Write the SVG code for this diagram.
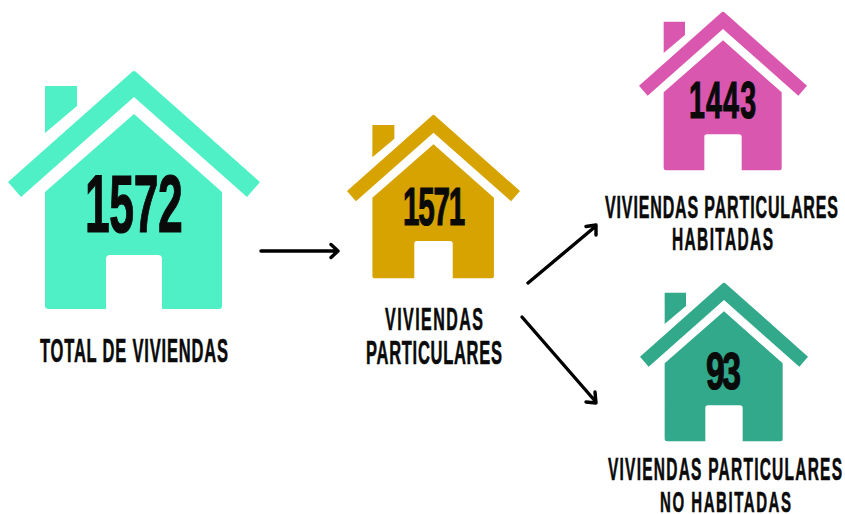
<svg xmlns="http://www.w3.org/2000/svg" width="845" height="514" viewBox="0 0 845 514">
<style>
text{font-family:"Liberation Sans Narrow","Liberation Sans",sans-serif;font-weight:700;fill:#0a0a0a;stroke:#0a0a0a;stroke-width:.6;}
.n{stroke-width:1.2;}
.c{fill:none;stroke:#000;stroke-width:3.4;stroke-linecap:round;stroke-linejoin:round;}
</style>
<defs>
<symbol id="house" viewBox="0 0 252 238" overflow="visible">
<path d="M126 0L127.500 0.500L252 111L239 126L126 26L13 126L0 111L124.500 0.500Z"/>
<path d="M37 15H69V35L37 62Z"/>
<path d="M126 43L214 121V235Q214 238 211 238H154V188Q154 184 150 184H102Q98 184 98 188V238H41Q37 238 37 235V121Z"/>
</symbol>
</defs>
<rect width="845" height="514" fill="#fff"/>
<g id="connectors">
<path class="c" d="M261 251H338M331 244.500L338 251L331 257.500"/>
<path class="c" d="M528 283L596 226M586 226.500L596 225L596 235"/>
<path class="c" d="M522 317L596 402M595 392L596 403L586 402"/>
</g>
<g id="node-total">
<use href="#house" x="8" y="71" width="252" height="238" fill="#50f0c6"/>
<text class="n" transform="translate(85 232) scale(.55 1)" font-size="81" textLength="178" lengthAdjust="spacing">1572</text>
<text transform="translate(40 362) scale(.5 1)" font-size="33" textLength="376" lengthAdjust="spacing">TOTAL DE VIVIENDAS</text>
</g>
<g id="node-particulares">
<use href="#house" x="347" y="114" width="173" height="165" fill="#d7a300"/>
<text class="n" transform="translate(403 225) scale(.55 1)" font-size="54" textLength="113" lengthAdjust="spacing">1571</text>
<text transform="translate(385 330) scale(.5 1)" font-size="32" textLength="196" lengthAdjust="spacing">VIVIENDAS</text>
<text transform="translate(366 364) scale(.5 1)" font-size="33" textLength="272" lengthAdjust="spacing">PARTICULARES</text>
</g>
<g id="node-habitadas">
<use href="#house" x="639" y="11" width="168" height="160" fill="#d957ae"/>
<text class="n" transform="translate(689 118) scale(.55 1)" font-size="52" textLength="122" lengthAdjust="spacing">1443</text>
<text transform="translate(605 218) scale(.5 1)" font-size="32" textLength="466" lengthAdjust="spacing">VIVIENDAS PARTICULARES</text>
<text transform="translate(672 250) scale(.5 1)" font-size="31" textLength="202" lengthAdjust="spacing">HABITADAS</text>
</g>
<g id="node-no-habitadas">
<use href="#house" x="640" y="282" width="168" height="160" fill="#32a98a"/>
<text class="n" transform="translate(706 389) scale(.65 1)" font-size="52" textLength="54" lengthAdjust="spacing">93</text>
<text transform="translate(608 480) scale(.5 1)" font-size="31" textLength="468" lengthAdjust="spacing">VIVIENDAS PARTICULARES</text>
<text transform="translate(660 512) scale(.5 1)" font-size="30" textLength="262" lengthAdjust="spacing">NO HABITADAS</text>
</g>
</svg>
